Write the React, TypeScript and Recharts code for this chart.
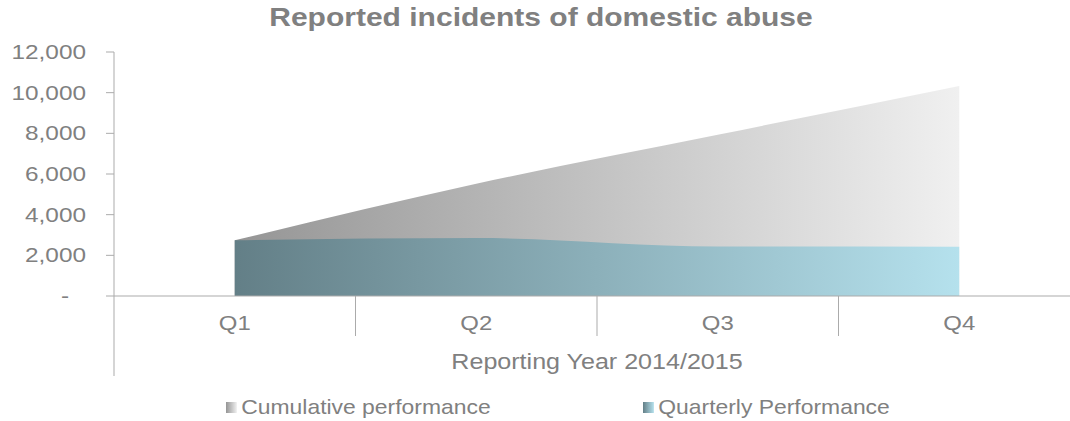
import { AreaChart, Area, XAxis, YAxis, Label } from "recharts";

const quarters = ["Q1", "Q2", "Q3", "Q4"];
const cumulative = [2740, 5520, 7930, 10330];
const quarterly = [2740, 2850, 2430, 2425];
const yTicks = [0, 2000, 4000, 6000, 8000, 10000, 12000];
const xTicks = [0.5, 1, 1.5, 2, 2.5, 3, 3.5, 4, 4.5];

const data = quarters.map((q, i) => ({
  pos: i + 1,
  quarter: q,
  cumulative: cumulative[i],
  quarterly: quarterly[i],
}));

const TEXT = "#808080";
const LINE = "#ababab";
const FONT = "'Liberation Sans', Arial, sans-serif";

// the original's text is a little wider than Arial, so stretch it sideways
function QuarterTick({ x, y, payload }: any) {
  const v = payload.value;
  if (Number.isInteger(v)) {
    return (
      <g transform={`translate(${x},${y + 34}) scale(1.14,1)`}>
        <text x={0} y={0} textAnchor="middle" fill={TEXT} fontSize={21} fontFamily={FONT}>
          {quarters[v - 1]}
        </text>
      </g>
    );
  }
  const len = v === 0.5 ? 80 : 40;
  return <line x1={x} x2={x} y1={y} y2={y + len} stroke={LINE} strokeWidth={1} />;
}

function ValueTick({ x, y, payload }: any) {
  const v = payload.value;
  const label = v === 0 ? "-" : v.toLocaleString("en-US");
  return (
    <g transform={`translate(${v === 0 ? x - 17 : x},${y + 7}) scale(1.16,1)`}>
      <text x={0} y={0} textAnchor="end" fill={TEXT} fontSize={21} fontFamily={FONT}>
        {label}
      </text>
    </g>
  );
}

function YearLabel({ viewBox }: any) {
  const cx = viewBox.x + viewBox.width / 2;
  const by = viewBox.y + viewBox.height - 52;
  return (
    <g transform={`translate(${cx},${by}) scale(1.14,1)`}>
      <text x={0} y={0} textAnchor="middle" fill={TEXT} fontSize={22} fontFamily={FONT}>
        Reporting Year 2014/2015
      </text>
    </g>
  );
}

export default function App() {
  return (
    <div style={{ position: "absolute", left: 0, top: 0, width: 1070, height: 421, overflow: "hidden", background: "#fff", fontFamily: FONT }}>
      <div
        style={{
          position: "absolute",
          left: 0,
          top: 3,
          width: 1082,
          textAlign: "center",
          fontSize: 25,
          fontWeight: "bold",
          color: TEXT,
          transform: "scaleX(1.2)",
          transformOrigin: "541px 0",
        }}
      >
        Reported incidents of domestic abuse
      </div>
      <AreaChart width={1080} height={421} data={data} margin={{ top: 52, right: 0, bottom: 0, left: 0 }}>
        <defs>
          <linearGradient id="cumFill" x1="0" y1="0" x2="1" y2="0">
            <stop offset="0%" stopColor="#959595" />
            <stop offset="100%" stopColor="#f0f0f0" />
          </linearGradient>
          <linearGradient id="qFill" x1="0" y1="0" x2="1" y2="0">
            <stop offset="0%" stopColor="#637f87" />
            <stop offset="100%" stopColor="#b5e1ed" />
          </linearGradient>
        </defs>
        <XAxis
          dataKey="pos"
          type="number"
          domain={[0.5, 4.5]}
          ticks={xTicks}
          interval={0}
          tickLine={false}
          tickSize={0}
          tickMargin={0}
          axisLine={{ stroke: LINE }}
          tick={<QuarterTick />}
          height={125}
        >
          <Label content={<YearLabel />} />
        </XAxis>
        <YAxis
          width={114}
          domain={[0, 12000]}
          ticks={yTicks}
          interval={0}
          tickSize={8}
          tickMargin={20}
          tickLine={{ stroke: LINE }}
          axisLine={{ stroke: LINE }}
          tick={<ValueTick />}
        />
        <Area
          type="monotone"
          dataKey="cumulative"
          stroke="none"
          fill="url(#cumFill)"
          fillOpacity={1}
          isAnimationActive={false}
        />
        <Area
          type="monotone"
          dataKey="quarterly"
          stroke="none"
          fill="url(#qFill)"
          fillOpacity={1}
          isAnimationActive={false}
        />
      </AreaChart>
      <div style={{ position: "absolute", left: 226, top: 395, display: "flex", alignItems: "center", fontSize: 21, color: TEXT, transform: "scaleX(1.09)", transformOrigin: "0 0" }}>
        <span style={{ width: 10, height: 11, background: "linear-gradient(90deg, #959595, #f0f0f0)", marginRight: 4 }} />
        Cumulative performance
      </div>
      <div style={{ position: "absolute", left: 643, top: 395, display: "flex", alignItems: "center", fontSize: 21, color: TEXT, transform: "scaleX(1.09)", transformOrigin: "0 0" }}>
        <span style={{ width: 10, height: 11, background: "linear-gradient(90deg, #637f87, #b5e1ed)", marginRight: 4 }} />
        Quarterly Performance
      </div>
    </div>
  );
}
